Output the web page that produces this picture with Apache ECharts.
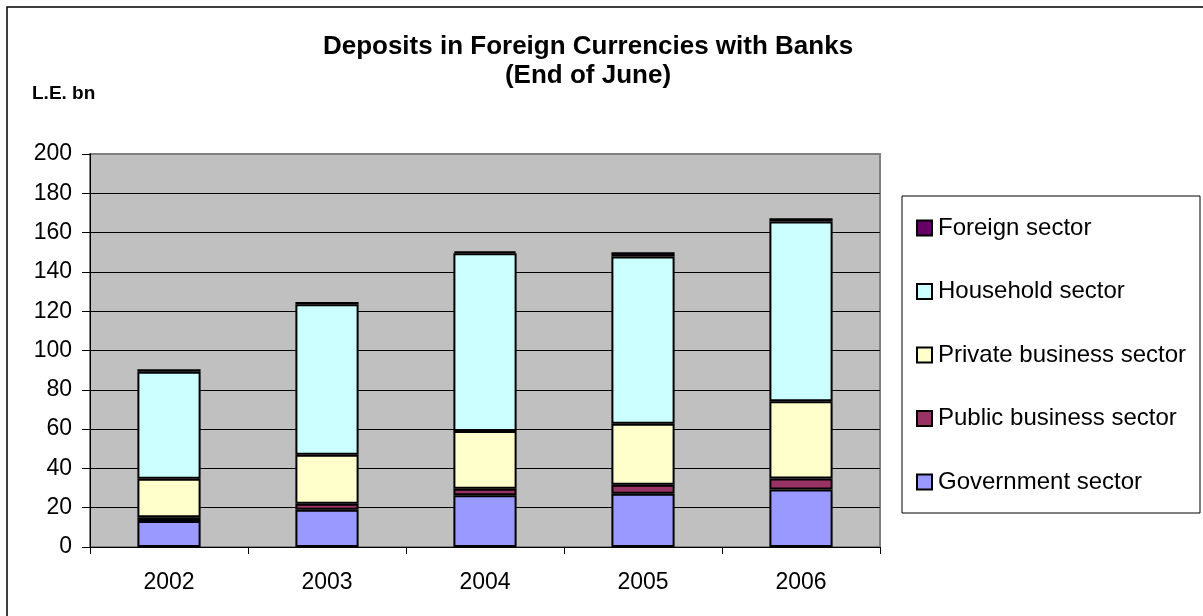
<!DOCTYPE html>
<html>
<head>
<meta charset="utf-8">
<script src="https://cdn.jsdelivr.net/npm/echarts@6/dist/echarts.min.js"></script>
<style>
  html, body { margin: 0; padding: 0; background: #fff; }
  #chart { width: 1203px; height: 616px; }
</style>
</head>
<body>
<div id="chart"></div>
<script>
// Deposits in foreign currencies with banks, end of June (L.E. bn)
const years = ['2002', '2003', '2004', '2005', '2006'];
const governmentSector = [13.2, 19.0, 26.3, 27.1, 29.2];
const publicBusinessSector = [2.0, 3.0, 3.4, 4.6, 5.6];
const privateBusinessSector = [19.5, 25.0, 29.3, 31.0, 39.4];
const householdSector = [54.5, 76.5, 90.5, 85.1, 91.4];
const foreignSector = [1.3, 1.2, 1.0, 2.2, 1.7];
const yTicks = [0, 200, 20]; // min, max, step

const FONT = '"Liberation Sans", Arial, sans-serif';

const seriesDefs = [
  { name: 'Government sector', data: governmentSector, color: '#9999FF' },
  { name: 'Public business sector', data: publicBusinessSector, color: '#993366' },
  { name: 'Private business sector', data: privateBusinessSector, color: '#FFFFCC' },
  { name: 'Household sector', data: householdSector, color: '#CCFFFF' },
  { name: 'Foreign sector', data: foreignSector, color: '#660066' }
];

const chart = echarts.init(document.getElementById('chart'), null, { renderer: 'canvas' });

chart.setOption({
  animation: false,
  backgroundColor: '#ffffff',
  title: {
    text: 'Deposits in Foreign Currencies with Banks\n(End of June)',
    left: 583,
    top: 27,
    textAlign: 'center',
    textStyle: {
      fontFamily: FONT,
      fontWeight: 'bold',
      fontSize: 26,
      lineHeight: 29,
      color: '#000'
    }
  },
  graphic: [
    {
      type: 'rect',
      shape: { x: 7, y: 7, width: 1400, height: 800 },
      style: { fill: null, stroke: '#000', lineWidth: 1.5 },
      silent: true
    },
    {
      type: 'rect',
      shape: { x: 902, y: 196, width: 298, height: 317 },
      style: { fill: '#fff', stroke: '#000', lineWidth: 1 },
      silent: true,
      z: -1
    },
    {
      type: 'text',
      left: 32,
      top: 84,
      style: {
        text: 'L.E. bn',
        fontFamily: FONT,
        fontWeight: 'bold',
        fontSize: 19,
        fill: '#000'
      }
    }
  ],
  legend: {
    orient: 'vertical',
    left: 916,
    top: 216,
    padding: 0,
    itemWidth: 15,
    itemHeight: 15,
    itemGap: 39.5,
    icon: 'rect',
    data: ['Foreign sector', 'Household sector', 'Private business sector', 'Public business sector', 'Government sector'],
    textStyle: {
      fontFamily: FONT,
      fontSize: 24,
      lineHeight: 24,
      color: '#000',
      padding: [0, 0, 0, 1]
    }
  },
  grid: {
    left: 90,
    top: 154,
    width: 790,
    height: 393,
    show: true,
    backgroundColor: '#C0C0C0',
    borderColor: '#808080',
    borderWidth: 2
  },
  xAxis: {
    type: 'category',
    data: years,
    axisLine: { show: true, lineStyle: { color: '#000', width: 1 } },
    axisTick: { show: true, length: 7, lineStyle: { color: '#000' } },
    axisLabel: { margin: 24, fontFamily: FONT, fontSize: 23, color: '#000' }
  },
  yAxis: {
    type: 'value',
    min: yTicks[0],
    max: yTicks[1],
    interval: yTicks[2],
    axisLine: { show: true, lineStyle: { color: '#000', width: 1 } },
    axisTick: { show: true, length: 8, lineStyle: { color: '#000' } },
    axisLabel: { margin: 18, fontFamily: FONT, fontSize: 23, color: '#000' },
    splitLine: { show: true, showMaxLine: false, lineStyle: { color: '#000', width: 1 } }
  },
  series: seriesDefs.map(s => ({
    name: s.name,
    type: 'bar',
    stack: 'total',
    barWidth: '40%',
    data: s.data,
    itemStyle: { color: s.color, borderColor: '#000', borderWidth: 2 }
  }))
});
</script>
</body>
</html>
